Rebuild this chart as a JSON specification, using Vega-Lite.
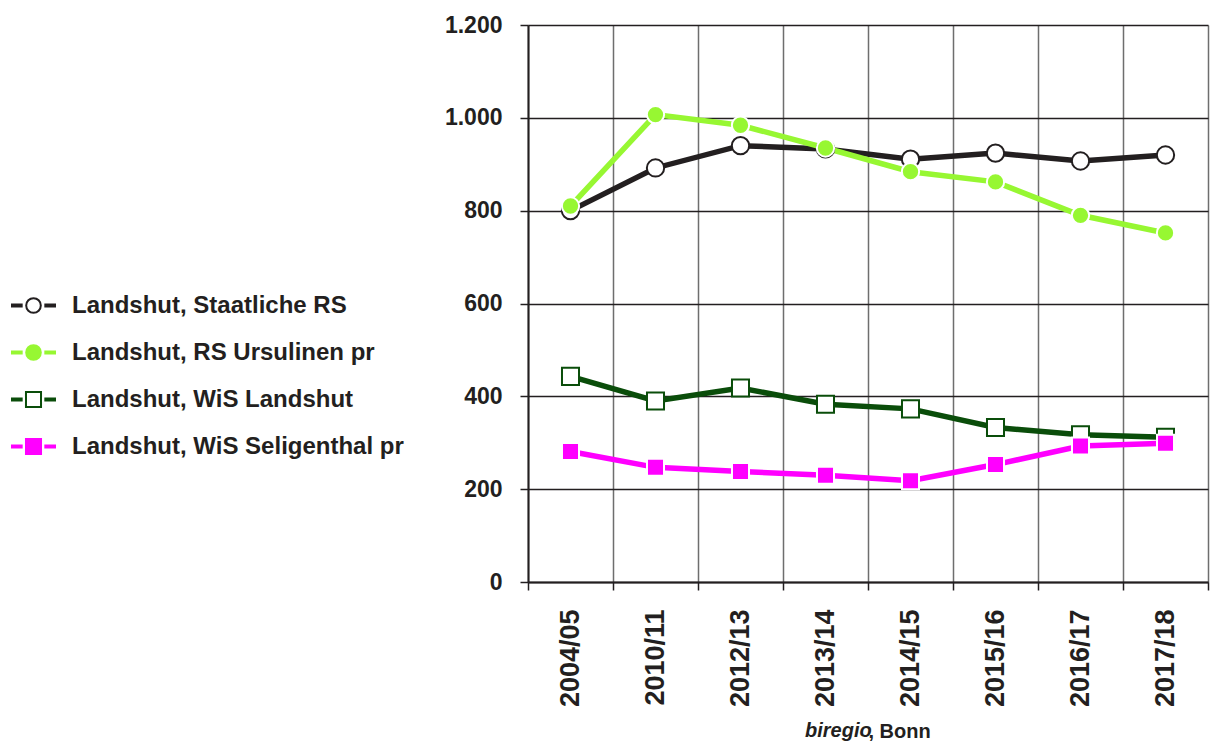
{
  "$schema": "https://vega.github.io/schema/vega-lite/v6.json",
  "autosize": "none",
  "width": 680,
  "height": 557,
  "padding": {"left": 528, "top": 25, "right": 8, "bottom": 163},
  "background": "white",
  "config": {
    "font": "Liberation Sans",
    "view": {"stroke": null}
  },
  "title": {
    "text": "biregio",
    "orient": "bottom",
    "anchor": "start",
    "frame": "group",
    "dx": 277,
    "offset": -4,
    "baseline": "alphabetic",
    "font": "Liberation Sans",
    "fontSize": 20,
    "fontStyle": "italic",
    "fontWeight": "bold",
    "color": "#231f20"
  },
  "data": {
    "values": [
      {"series": "Landshut, Staatliche RS", "year": "2004/05", "value": 800},
      {"series": "Landshut, Staatliche RS", "year": "2010/11", "value": 892},
      {"series": "Landshut, Staatliche RS", "year": "2012/13", "value": 940},
      {"series": "Landshut, Staatliche RS", "year": "2013/14", "value": 933},
      {"series": "Landshut, Staatliche RS", "year": "2014/15", "value": 911},
      {"series": "Landshut, Staatliche RS", "year": "2015/16", "value": 924},
      {"series": "Landshut, Staatliche RS", "year": "2016/17", "value": 907},
      {"series": "Landshut, Staatliche RS", "year": "2017/18", "value": 920},
      {"series": "Landshut, RS Ursulinen pr", "year": "2004/05", "value": 810},
      {"series": "Landshut, RS Ursulinen pr", "year": "2010/11", "value": 1007},
      {"series": "Landshut, RS Ursulinen pr", "year": "2012/13", "value": 984},
      {"series": "Landshut, RS Ursulinen pr", "year": "2013/14", "value": 935},
      {"series": "Landshut, RS Ursulinen pr", "year": "2014/15", "value": 884},
      {"series": "Landshut, RS Ursulinen pr", "year": "2015/16", "value": 862},
      {"series": "Landshut, RS Ursulinen pr", "year": "2016/17", "value": 790},
      {"series": "Landshut, RS Ursulinen pr", "year": "2017/18", "value": 752},
      {"series": "Landshut, WiS Landshut", "year": "2004/05", "value": 443},
      {"series": "Landshut, WiS Landshut", "year": "2010/11", "value": 390},
      {"series": "Landshut, WiS Landshut", "year": "2012/13", "value": 418},
      {"series": "Landshut, WiS Landshut", "year": "2013/14", "value": 383},
      {"series": "Landshut, WiS Landshut", "year": "2014/15", "value": 373},
      {"series": "Landshut, WiS Landshut", "year": "2015/16", "value": 333},
      {"series": "Landshut, WiS Landshut", "year": "2016/17", "value": 317},
      {"series": "Landshut, WiS Landshut", "year": "2017/18", "value": 312},
      {"series": "Landshut, WiS Seligenthal pr", "year": "2004/05", "value": 281},
      {"series": "Landshut, WiS Seligenthal pr", "year": "2010/11", "value": 247},
      {"series": "Landshut, WiS Seligenthal pr", "year": "2012/13", "value": 238},
      {"series": "Landshut, WiS Seligenthal pr", "year": "2013/14", "value": 230},
      {"series": "Landshut, WiS Seligenthal pr", "year": "2014/15", "value": 218},
      {"series": "Landshut, WiS Seligenthal pr", "year": "2015/16", "value": 253},
      {"series": "Landshut, WiS Seligenthal pr", "year": "2016/17", "value": 293},
      {"series": "Landshut, WiS Seligenthal pr", "year": "2017/18", "value": 299}
    ]
  },
  "encoding": {
    "x": {
      "field": "year",
      "type": "ordinal",
      "sort": null,
      "scale": {"type": "band", "paddingInner": 0, "paddingOuter": 0},
      "axis": {
        "title": ", Bonn",
        "titleX": 340,
        "titleY": 155,
        "titleAlign": "left",
        "titleAnchor": null,
        "titleBaseline": "alphabetic",
        "titleFont": "Liberation Sans",
        "titleFontSize": 20,
        "titleFontWeight": "bold",
        "titleColor": "#231f20",
        "labelAngle": 270,
        "labelAlign": "right",
        "labelBaseline": "middle",
        "labelFont": "Liberation Sans",
        "labelFontSize": 27,
        "labelFontWeight": "bold",
        "labelColor": "#231f20",
        "labelPadding": 19,
        "tickBand": "extent",
        "tickSize": 8,
        "tickColor": "#231f20",
        "tickWidth": 1.5,
        "domainColor": "#231f20",
        "domainWidth": 2,
        "grid": true,
        "gridColor": "#6e6e6e",
        "gridWidth": 1.5,
        "zindex": 0
      }
    },
    "y": {
      "field": "value",
      "type": "quantitative",
      "scale": {"domain": [0, 1200], "nice": false, "zero": true},
      "axis": {
        "title": null,
        "values": [0, 200, 400, 600, 800, 1000, 1200],
        "labelExpr": "replace(format(datum.value, ','), ',', '.')",
        "labelFont": "Liberation Sans",
        "labelFontSize": 23,
        "labelFontWeight": "bold",
        "labelColor": "#231f20",
        "labelPadding": 18,
        "tickSize": 8,
        "tickColor": "#231f20",
        "tickWidth": 1.5,
        "domainColor": "#231f20",
        "domainWidth": 2,
        "grid": true,
        "gridColor": "#231f20",
        "gridWidth": 1.5,
        "zindex": 0
      }
    }
  },
  "layer": [
    {
      "mark": {"type": "line", "strokeWidth": 5.5},
      "encoding": {
        "color": {
          "field": "series",
          "type": "nominal",
          "sort": null,
          "scale": {
            "domain": ["Landshut, Staatliche RS", "Landshut, RS Ursulinen pr", "Landshut, WiS Landshut", "Landshut, WiS Seligenthal pr"],
            "range": ["#231f20", "#97f732", "#0a4d0a", "#ff00ff"]
          },
          "legend": {
            "title": null,
            "orient": "none",
            "legendX": -517,
            "legendY": 258,
            "padding": 0,
            "symbolSize": 1849,
            "symbolStrokeWidth": 2,
            "rowPadding": 12,
            "labelOffset": 16,
            "labelFont": "Liberation Sans",
            "labelFontSize": 24,
            "labelFontWeight": "bold",
            "labelColor": "#231f20",
            "labelLimit": 500,
            "encode": {
              "symbols": {
                "update": {
                  "shape": {"signal": "(datum.value == 'Landshut, Staatliche RS' || datum.value == 'Landshut, RS Ursulinen pr') ? 'M-1,-0.05H-0.55V0.05H-1Z M0.55,-0.05H1V0.05H0.55Z M-0.34,0A0.34,0.34 0 1,0 0.34,0A0.34,0.34 0 1,0 -0.34,0Z' : 'M-1,-0.05H-0.55V0.05H-1Z M0.55,-0.05H1V0.05H0.55Z M-0.35,-0.35H0.35V0.35H-0.35Z'"},
                  "fill": {"signal": "datum.value == 'Landshut, RS Ursulinen pr' ? '#97f732' : datum.value == 'Landshut, WiS Seligenthal pr' ? '#ff00ff' : '#ffffff'"},
                  "stroke": {"signal": "datum.value == 'Landshut, Staatliche RS' ? '#231f20' : datum.value == 'Landshut, RS Ursulinen pr' ? '#97f732' : datum.value == 'Landshut, WiS Landshut' ? '#0a4d0a' : '#ff00ff'"},
                  "strokeWidth": {"value": 2},
                  "opacity": {"value": 1},
                  "fillOpacity": {"value": 1},
                  "strokeOpacity": {"value": 1}
                }
              }
            }
          }
        }
      }
    },
    {
      "transform": [{"filter": {"field": "series", "oneOf": ["Landshut, Staatliche RS", "Landshut, RS Ursulinen pr"]}}],
      "mark": {"type": "point", "shape": "circle", "filled": false, "size": 300, "strokeWidth": 2, "opacity": 1},
      "encoding": {
        "fill": {
          "field": "series",
          "type": "nominal",
          "sort": null,
          "scale": {
            "domain": ["Landshut, Staatliche RS", "Landshut, RS Ursulinen pr", "Landshut, WiS Landshut", "Landshut, WiS Seligenthal pr"],
            "range": ["#ffffff", "#97f732", "#ffffff", "#ff00ff"]
          },
          "legend": null
        },
        "stroke": {
          "field": "series",
          "type": "nominal",
          "sort": null,
          "scale": {
            "domain": ["Landshut, Staatliche RS", "Landshut, RS Ursulinen pr", "Landshut, WiS Landshut", "Landshut, WiS Seligenthal pr"],
            "range": ["#231f20", "#ffffff", "#0a4d0a", "#ffffff"]
          },
          "legend": null
        }
      }
    },
    {
      "transform": [{"filter": {"field": "series", "oneOf": ["Landshut, WiS Landshut", "Landshut, WiS Seligenthal pr"]}}],
      "mark": {"type": "point", "shape": "square", "filled": false, "size": 290, "strokeWidth": 2, "opacity": 1},
      "encoding": {
        "fill": {"field": "series", "type": "nominal", "sort": null, "legend": null},
        "stroke": {"field": "series", "type": "nominal", "sort": null, "legend": null}
      }
    }
  ]
}
